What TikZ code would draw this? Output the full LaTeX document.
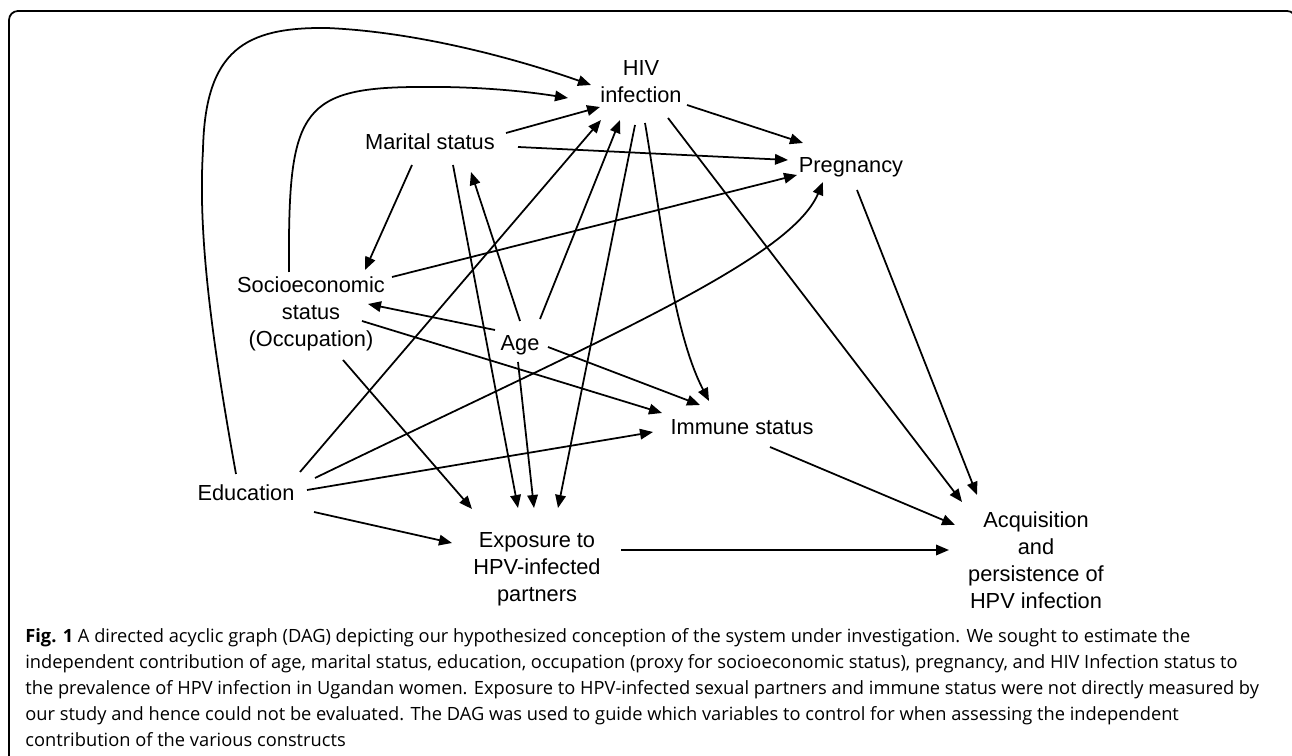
\documentclass[tikz,border=0pt]{standalone}
\usepackage{fontspec}
\setmainfont{Liberation Sans}
\newfontfamily\capfont{Open Sans}
\usetikzlibrary{arrows.meta,calc}

\begin{document}
\begin{tikzpicture}[x=0.02cm,y=-0.02cm,
  var/.style={align=center,inner sep=0pt,font=\fontsize{12.4pt}{15.4pt}\selectfont},
  ar/.style={-{Triangle[length=7.4pt,width=6pt]},line width=1pt}]

\useasboundingbox (0,0) rectangle (1292,756);
% frame (bottom edge lies outside the page)
\draw[line width=1pt,rounded corners=0.18cm] (9,790) -- (9,11) -- (1296,11) -- (1296,790);

\node[var] (hiv)  at (641,82)  {HIV\\infection};
\node[var] (mar)  at (430,142) {Marital status};
\node[var] (preg) at (851,167) {Pregnancy};
\node[var] (soc)  at (311,314) {Socioeconomic\\status\\(Occupation)};
\node[var] (age)  at (520,345) {Age};
\node[var] (edu)  at (246,493) {Education};
\node[var] (imm)  at (742,427) {Immune status};
\node[var] (exp)  at (537,569) {Exposure to\\HPV-infected\\partners};
\node[var] (acq)  at (1036,560) {Acquisition\\and\\persistence of\\HPV infection};

% curved edges into HIV infection
\draw[ar] ($(edu)+(-10,-19)$) .. controls (210,330) and (198,230) .. (203,150)
  .. controls (205,50) and (245,27) .. (327,28)
  .. controls (420,32) and (520,60) .. ($(hiv)+(-50,3)$);
\draw[ar] ($(soc)+(-22,-42)$) .. controls (288,115) and (298,88) .. (415,87)
  .. controls (480,86) and (530,92) .. ($(hiv)+(-73,16)$);

\draw[ar] ($(mar)+(76,-9)$) -- ($(hiv)+(-41,25)$);
\draw[ar] ($(edu)+(54,-21)$) -- ($(hiv)+(-40,38)$);
\draw[ar] ($(age)+(20,-26)$) -- ($(hiv)+(-21,38)$);

% into Pregnancy
\draw[ar] ($(hiv)+(46,23)$) -- ($(preg)+(-48,-24)$);
\draw[ar] ($(mar)+(88,5)$) -- ($(preg)+(-63,-7)$);
\draw[ar] ($(soc)+(81,-37)$) -- ($(preg)+(-54,8)$);
\draw[ar] ($(edu)+(69,-15)$) .. controls (600,340) and (790,260) .. ($(preg)+(-28,15)$);

% Marital status, Age, Socioeconomic status
\draw[ar] ($(mar)+(-18,23)$) -- ($(soc)+(54,-44)$);
\draw[ar] ($(age)+(0,-24)$) -- ($(mar)+(41,30)$);
\draw[ar] ($(age)+(-25,-15)$) -- ($(soc)+(57,-10)$);

% into Immune status
\draw[ar] ($(age)+(28,2)$) -- ($(imm)+(-42,-22)$);
\draw[ar] ($(soc)+(51,7)$) -- ($(imm)+(-80,-14)$);
\draw[ar] ($(edu)+(61,-3)$) -- ($(imm)+(-89,5)$);
\draw[ar] ($(hiv)+(4,41)$) .. controls (660,210) and (672,330) .. ($(imm)+(-33,-26)$);

% into Exposure
\draw[ar] ($(mar)+(23,23)$) -- ($(exp)+(-19,-61)$);
\draw[ar] ($(age)+(-2,17)$) -- ($(exp)+(-3,-61)$);
\draw[ar] ($(soc)+(32,46)$) -- ($(exp)+(-65,-60)$);
\draw[ar] ($(edu)+(68,19)$) -- ($(exp)+(-85,-26)$);
\draw[ar] ($(hiv)+(-6,43)$) -- ($(exp)+(21,-61)$);

% into Acquisition
\draw[ar] ($(hiv)+(27,36)$) -- ($(acq)+(-74,-58)$);
\draw[ar] ($(preg)+(6,23)$) -- ($(acq)+(-59,-65)$);
\draw[ar] ($(imm)+(28,20)$) -- ($(acq)+(-81,-35)$);
\draw[ar] ($(exp)+(84,-19)$) -- ($(acq)+(-87,-10)$);

\node[anchor=north west,align=left,inner sep=0pt,
      font=\capfont\fontsize{10.4pt}{14.8pt}\selectfont] (cap) at (25,628)
  {\textbf{Fig. 1} A directed acyclic graph (DAG) depicting our hypothesized conception of the system under investigation. We sought to estimate the\\
   independent contribution of age, marital status, education, occupation (proxy for socioeconomic status), pregnancy, and HIV Infection status to\\
   the prevalence of HPV infection in Ugandan women. Exposure to HPV-infected sexual partners and immune status were not directly measured by\\
   our study and hence could not be evaluated. The DAG was used to guide which variables to control for when assessing the independent\\
   contribution of the various constructs};
\end{tikzpicture}
\end{document}
